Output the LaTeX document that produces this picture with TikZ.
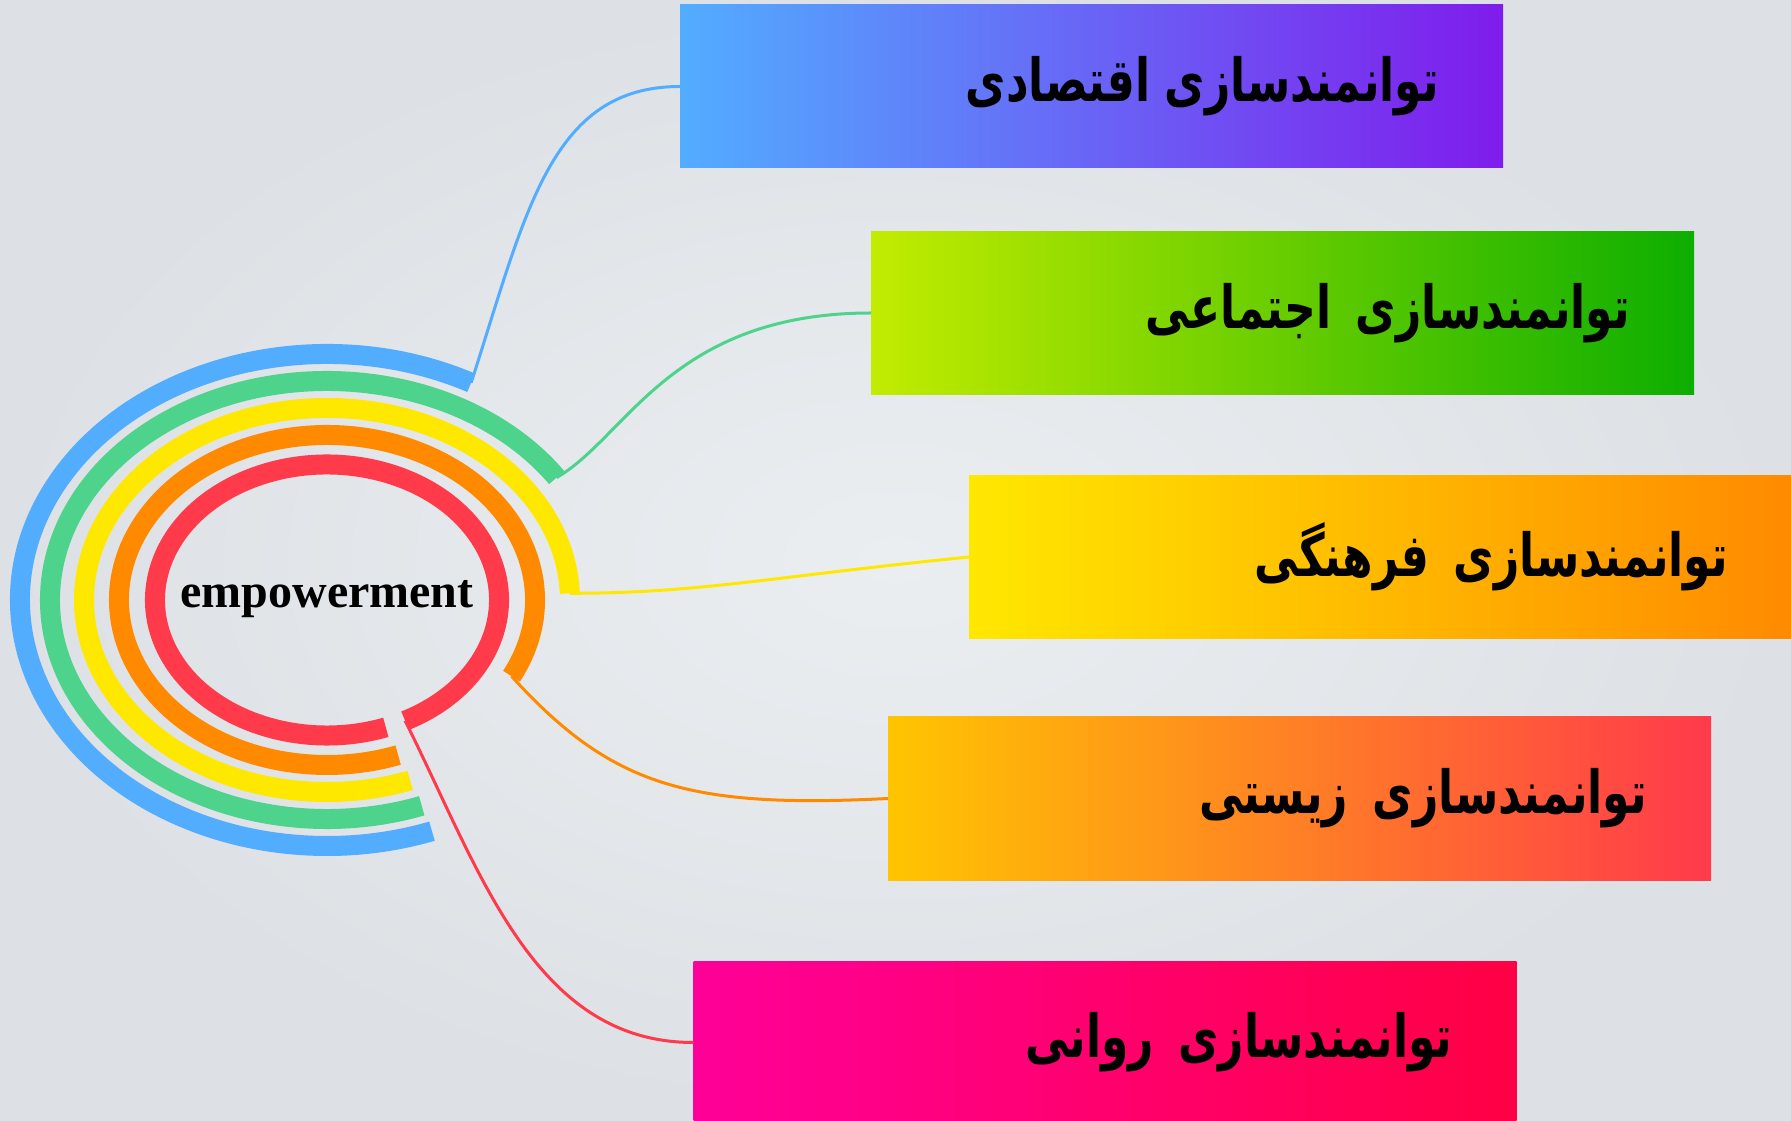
\documentclass[tikz,border=0pt]{standalone}
\usepackage{graphicx}
\usepackage{fontspec}
\setmainfont{Liberation Serif}
\newfontfamily\arabicfont[Script=Arabic]{DejaVu Sans}
\TeXXeTstate=1
\usetikzlibrary{positioning}

\definecolor{bgin}{HTML}{EBEEF1}
\definecolor{bgout}{HTML}{DDE1E5}
\definecolor{ringblue}{HTML}{52ADFF}
\definecolor{ringgreen}{HTML}{4DD38B}
\definecolor{ringyellow}{HTML}{FFE800}
\definecolor{ringorange}{HTML}{FF8A00}
\definecolor{ringred}{HTML}{FF3A4B}
\definecolor{boxpurple}{HTML}{7F1CEC}
\definecolor{boxlime}{HTML}{C2EC00}
\definecolor{boxgreen}{HTML}{0DAE00}
\definecolor{boxamber}{HTML}{FFC500}
\definecolor{boxcoral}{HTML}{FF7434}
\definecolor{boxpink}{HTML}{FF0098}
\definecolor{boxcrimson}{HTML}{FF0044}

\newcommand{\fatext}[1]{\scalebox{1}[1.35]{\beginR #1\endR}}

\begin{document}
\begin{tikzpicture}[x=1pt,y=1pt,
    ringline/.style={line width=20pt, line cap=butt},
    connector/.style={line width=3pt},
    areabox/.style={minimum width=823pt, minimum height=163pt, text width=695pt,
      inner xsep=64pt, inner ysep=0pt, outer sep=0pt, align=right,
      font=\fontsize{44}{52}\selectfont\arabicfont\bfseries}
    ]
    %% background
    \useasboundingbox (0,0) rectangle (1791,1120);
    \fill[inner color=bgin, outer color=bgout] (0,0) rectangle (1791,1120);

    %% rings round the centre
    \coordinate (c) at (327,520);
    \draw[ringline, ringblue] (c) ++(62:307 and 246) coordinate (eb)
      arc[start angle=62, end angle=290, x radius=307pt, y radius=246pt];
    \draw[ringline, ringgreen] (c) ++(34:277 and 219) coordinate (eg)
      arc[start angle=34, end angle=290, x radius=277pt, y radius=219pt];
    \draw[ringline, ringyellow] (c) ++(2:243 and 192) coordinate (ey)
      arc[start angle=2, end angle=290, x radius=243pt, y radius=192pt];
    \draw[ringline, ringorange] (c) ++(-27.5:208 and 165) coordinate (eo)
      arc[start angle=-27.5, end angle=290, x radius=208pt, y radius=165pt];
    \draw[ringline, ringred] (c) ++(-63:172 and 135.5) coordinate (er)
      arc[start angle=-63, end angle=290, x radius=172pt, y radius=135.5pt];

    \node (core) at (327,521) {\fontsize{48}{56}\selectfont\bfseries empowerment};

    %% boxes
    \node[areabox, left color=ringblue, right color=boxpurple] (b1) at (1091.5,1033.5)
      {\fatext{توانمندسازی اقتصادی}};
    \node[areabox, left color=boxlime, right color=boxgreen] (b2) at (1282.5,807)
      {\fatext{توانمندسازی\hspace{10pt} اجتماعی}};
    \node[areabox, left color=ringyellow, right color=ringorange] (b3) at (1380.5,563)
      {\fatext{توانمندسازی\hspace{10pt} فرهنگی}};
    \node[areabox, left color=boxamber, middle color=boxcoral, right color=ringred] (b4) at (1299.5,321.5)
      {\fatext{توانمندسازی\hspace{10pt} زیستی}};
    \node[areabox, left color=boxpink, right color=boxcrimson] (b5) at (1105,77.5)
      {\fatext{توانمندسازی\hspace{10pt} روانی}};

    %% connectors
    \draw[connector, ringblue] (eb) .. controls +(55,170) and +(-130,0) .. (b1.west);
    \draw[connector, ringgreen] (eg) .. controls +(70,40) and +(-200,0) .. (b2.west);
    \draw[connector, ringyellow] (ey) .. controls +(130,0) and +(-200,-20) .. (b3.west);
    \draw[connector, ringorange] (eo) .. controls +(100,-110) and +(-200,-10) .. (b4.west);
    \draw[connector, ringred] (er) .. controls +(75,-150) and +(-160,0) .. (b5.west);
\end{tikzpicture}
\end{document}
